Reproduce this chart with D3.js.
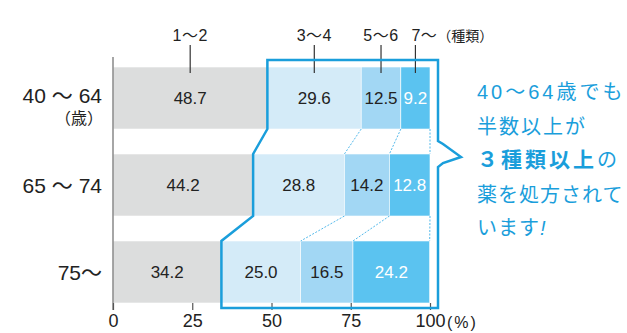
<!DOCTYPE html>
<html lang="ja">
<head>
<meta charset="UTF-8">
<script src="https://d3js.org/d3.v7.min.js"></script>
<style>
  body { margin: 0; background: #fff; }
  text { font-family: "Liberation Sans", "Noto Sans CJK JP", sans-serif; }
</style>
</head>
<body>
<svg id="chart" width="627" height="333"></svg>
<script>
// 年齢層ごとの処方薬の種類数 (%)
const ageGroups = ["40 ～ 64", "65 ～ 74", "75～"];
const categories = ["1～2", "3～4", "5～6", "7～"];
const values40 = [48.7, 29.6, 12.5, 9.2];
const values65 = [44.2, 28.8, 14.2, 12.8];
const values75 = [34.2, 25.0, 16.5, 24.2];
const tickValues = [0, 25, 50, 75, 100];
const calloutLines = ["40～64歳でも", "半数以上が", "３種類以上の", "薬を処方されて", "います！"];

const allValues = [values40, values65, values75];
const colors = ["#dcdddd", "#d4ebf8", "#a2d7f4", "#5bc3f0"];
const textColors = ["#222", "#222", "#222", "#fff"];
const blue = "#1a9edb";

const svg = d3.select("#chart");
const x = d3.scaleLinear().domain([0, 100]).range([113, 430]);
const y = d3.scaleBand().domain(ageGroups).range([67, 303]).paddingInner(0.287).paddingOuter(0);
const bw = y.bandwidth();

const rows = ageGroups.map((g, i) => {
  let c = 0;
  const segs = allValues[i].map((v, j) => {
    const s = { group: g, cat: categories[j], v, x0: c, x1: c + v, j };
    c += v;
    return s;
  });
  return { group: g, segs };
});

// bars
const rowG = svg.selectAll(".row").data(rows).enter().append("g")
  .attr("transform", d => `translate(0,${y(d.group)})`);

rowG.selectAll("rect").data(d => d.segs).enter().append("rect")
  .attr("x", d => x(d.x0))
  .attr("width", d => x(d.x1) - x(d.x0))
  .attr("height", bw)
  .attr("fill", d => colors[d.j])
  .attr("stroke", "#fff")
  .attr("stroke-width", 0.6);

rowG.selectAll(".val").data(d => d.segs).enter().append("text")
  .attr("x", d => (x(d.x0) + x(d.x1)) / 2)
  .attr("y", bw / 2 + 6)
  .attr("text-anchor", "middle")
  .style("font-size", "17px")
  .attr("fill", d => textColors[d.j])
  .text(d => d.v.toFixed(1));

// dotted connectors between bars
for (let i = 0; i < rows.length - 1; i++) {
  const a = rows[i].segs, b = rows[i + 1].segs;
  for (let j = 1; j < categories.length; j++) {
    svg.append("line")
      .attr("x1", x(a[j].x1)).attr("y1", y(rows[i].group) + bw)
      .attr("x2", x(b[j].x1)).attr("y2", y(rows[i + 1].group))
      .attr("stroke", "#3fb1e8")
      .attr("stroke-width", 0.9)
      .attr("stroke-dasharray", "2,1.5");
  }
}

// y axis line
svg.append("line")
  .attr("x1", x(0)).attr("x2", x(0))
  .attr("y1", 57).attr("y2", 310)
  .attr("stroke", "#888").attr("stroke-width", 1.5);

// x axis ticks
const xAxis = svg.append("g").attr("transform", "translate(0,303)")
  .call(d3.axisBottom(x).tickValues(tickValues).tickSize(7).tickFormat(d3.format("d")));
xAxis.select(".domain").remove();
xAxis.selectAll(".tick line").attr("stroke", "#555").attr("stroke-width", 1.2);
xAxis.selectAll(".tick text")
  .attr("y", 11)
  .style("font-size", "18px")
  .attr("fill", "#222");
svg.append("text")
  .attr("x", x(100) + 17).attr("y", 328)
  .attr("letter-spacing", "2px")
  .style("font-size", "16px").attr("fill", "#222")
  .text("(%)");

// category labels on top
const b0 = rows[0];
b0.segs.forEach(s => {
  const cx = (x(s.x0) + x(s.x1)) / 2;
  svg.append("line")
    .attr("x1", cx).attr("x2", cx).attr("y1", 45).attr("y2", 73)
    .attr("stroke", "#333").attr("stroke-width", 1.2);
  const t = svg.append("text")
    .attr("x", cx).attr("y", 41)
    .attr("text-anchor", s.j === 3 ? "start" : "middle")
    .attr("dx", s.j === 3 ? -4 : 0)
    .attr("letter-spacing", "0.5px")
    .style("font-size", "16px").attr("fill", "#222")
    .text(s.cat);
  if (s.j === 3) t.append("tspan").style("font-size", "14px").attr("letter-spacing", "0px").text("（種類）");
});

// age labels
svg.selectAll(".age").data(ageGroups).enter().append("text")
  .attr("x", 102)
  .attr("y", d => y(d) + bw / 2 + 8 - (d === ageGroups[0] ? 3 : 0))
  .attr("text-anchor", "end")
  .style("font-size", "21px").attr("fill", "#222")
  .text(d => d);
svg.append("text")
  .attr("x", 103).attr("y", y(ageGroups[0]) + bw / 2 + 26)
  .attr("text-anchor", "end")
  .style("font-size", "16px").attr("fill", "#222")
  .text("（歳）");

// highlight frame
const fTop = y(ageGroups[0]) - 7, fRight = x(100) + 8, fBottom = y(ageGroups[2]) + bw + 5;
const frame = [
  [x(values40[0]), fTop], [fRight, fTop], [fRight, 141], [443, 144], [461, 157], [443, 163],
  [fRight, 167], [fRight, fBottom], [x(values75[0]), fBottom], [x(values75[0]), y(ageGroups[2])],
  [x(values65[0]), y(ageGroups[1]) + bw], [x(values65[0]), y(ageGroups[1])],
  [x(values40[0]), y(ageGroups[0]) + bw]
];
svg.append("path")
  .attr("d", d3.line()(frame) + "Z")
  .attr("fill", "none")
  .attr("stroke", blue)
  .attr("stroke-width", 2.5)
  .attr("stroke-linejoin", "miter");

// callout text
const call = svg.append("g").attr("fill", blue).style("font-size", "20px");
const lineY = [99, 134, 167, 202, 235];
calloutLines.forEach((l, i) => {
  const t = call.append("text").attr("x", 477).attr("y", lineY[i]);
  if (i === 0) {
    t.attr("letter-spacing", "3px").text(l);
  } else if (i === 1) {
    t.attr("letter-spacing", "2px").text(l);
  } else if (i === 2) {
    t.append("tspan").style("font-weight", "bold").style("font-size", "21px")
      .attr("letter-spacing", "3px").text("３種類以上");
    t.append("tspan").text("の");
  } else if (i === 3) {
    t.attr("letter-spacing", "1px").text(l);
  } else {
    t.attr("letter-spacing", "1px");
    t.append("tspan").text("います");
    t.append("tspan").style("font-style", "italic").text("!");
  }
});
</script>
</body>
</html>
